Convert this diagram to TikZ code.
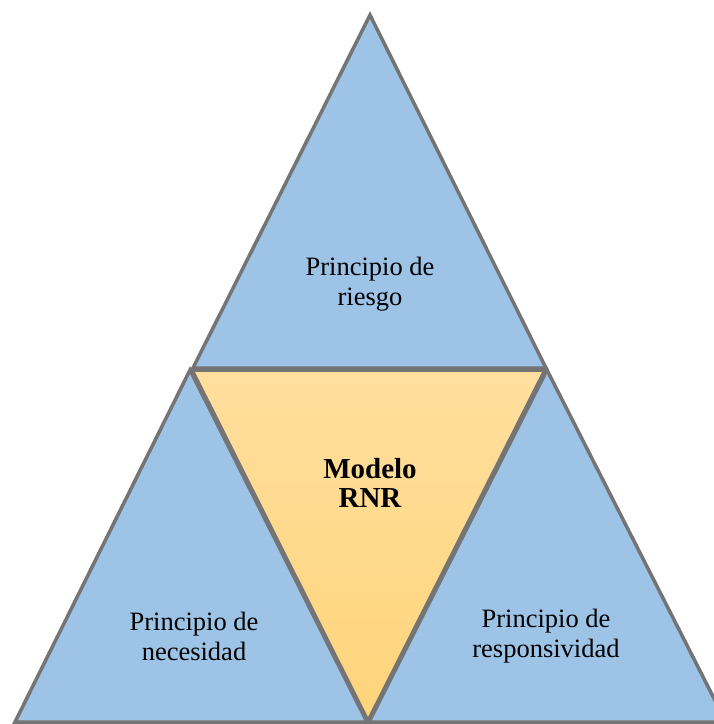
\documentclass[tikz,border=0pt]{standalone}
\usepackage{fontspec}
\setmainfont{Liberation Serif}
\usetikzlibrary{positioning}
\definecolor{rnrblue}{HTML}{9DC3E6}
\definecolor{rnredge}{HTML}{747474}
\definecolor{rnrtop}{HTML}{FFDF9E}
\definecolor{rnrbottom}{HTML}{FFD47A}
\tikzstyle{side} = [fill=rnrblue, draw=rnredge, line width=3.5pt, line join=miter]
\tikzstyle{centre} = [top color=rnrtop, bottom color=rnrbottom, draw=rnredge, line width=3.5pt, line join=miter]
\tikzstyle{label} = [align=center, font=\fontsize{26.5}{30}\selectfont]
\tikzstyle{title} = [align=center, font=\fontsize{29}{29}\selectfont\bfseries]

\begin{document}
\begin{tikzpicture}[x=1pt,y=-1pt]
  \useasboundingbox (0,0) rectangle (714,724);

  % corners
  \coordinate (top) at (370,15);
  \coordinate (topl) at (193,368);
  \coordinate (topr) at (546,368);
  \coordinate (lefttop) at (190,370);
  \coordinate (leftl) at (15,722);
  \coordinate (leftr) at (367,722);
  \coordinate (righttop) at (547,370);
  \coordinate (rightl) at (369,722);
  \coordinate (rightr) at (726,722);
  \coordinate (midl) at (192,370);
  \coordinate (midr) at (545,370);
  \coordinate (midb) at (368,721);

  % outer triangles
  \path[side] (top) -- (topr) -- (topl) -- cycle;
  \path[side] (lefttop) -- (leftr) -- (leftl) -- cycle;
  \path[side] (righttop) -- (rightr) -- (rightl) -- cycle;

  % inner triangle
  \path[centre] (midl) -- (midr) -- (midb) -- cycle;

  \node (riesgo) [label] at (370,284) {Principio de\\riesgo};
  \node (necesidad) [label] at (194,636) {Principio de\\necesidad};
  \node (respons) [label] at (546,636) {Principio de\\responsividad};
  \node (modelo) [title] at (370,483) {Modelo\\RNR};
\end{tikzpicture}
\end{document}
